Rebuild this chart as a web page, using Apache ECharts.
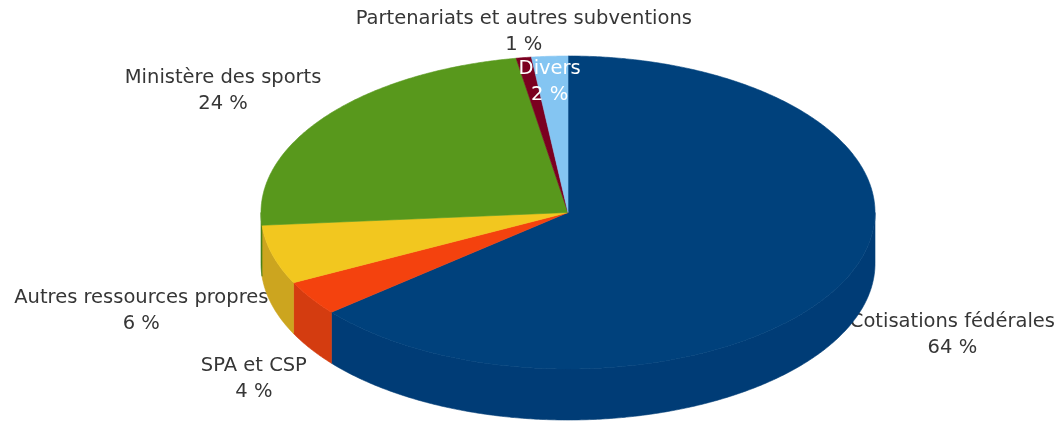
<!DOCTYPE html>
<html><head><meta charset="utf-8">
<script src="https://cdn.jsdelivr.net/npm/echarts@6/dist/echarts.min.js"></script>
<style>html,body{margin:0;padding:0;background:#fff}#c{width:1063px;height:423px}</style>
</head><body><div id="c"></div>
<script>
const categories = ['Cotisations fédérales', 'SPA et CSP', 'Autres ressources propres', 'Ministère des sports', 'Partenariats et autres subventions', 'Divers'];
const values = [64.0, 3.6, 6.1, 23.6, 0.8, 1.9];
const topColors = ['#00417c', '#f4420e', '#f2c71f', '#58981c', '#7b0020', '#84c5f2'];
const wallColors = ['#003c76', '#d43c10', '#cca51f', '#4a8218', '#5e0018', '#6aa6cf'];
const labelInside = [false, false, false, false, false, true];

const DEPTH = 0.326;
const FONT_SIZE = 19.5;
const FONT_FAMILY = 'DejaVu Sans';
const LINE_H = 26;
const total = values.reduce((a, b) => a + b, 0);
const starts = []; let acc = 0; values.forEach(v => { starts.push(acc); acc += v; });
const pctText = values.map(v => Math.round(v / total * 100) + ' %');

const mctx = document.createElement('canvas').getContext('2d');
mctx.font = FONT_SIZE + 'px "' + FONT_FAMILY + '"';
function textWidth(s) { return Math.max(...s.split('\n').map(l => mctx.measureText(l).width)); }

function renderItem(params, api) {
  const i = params.dataIndex;
  const v = api.value(2);
  const a0 = starts[i] / total * 2 * Math.PI;
  const a1 = (starts[i] + v) / total * 2 * Math.PI;
  const P = t => api.coord([Math.sin(t), Math.cos(t)]);
  const c = api.coord([0, 0]);
  const dpx = api.coord([0, -1 - DEPTH])[1] - api.coord([0, -1])[1];
  const step = Math.PI / 360;
  const children = [];
  const w0 = Math.max(a0, Math.PI / 2), w1 = Math.min(a1, 1.5 * Math.PI);
  if (w1 > w0) {
    const top = [], bot = [];
    for (let t = w0; t < w1; t += step) { const p = P(t); top.push(p); bot.push([p[0], p[1] + dpx]); }
    const pe = P(w1); top.push(pe); bot.push([pe[0], pe[1] + dpx]);
    children.push({ type: 'polygon', shape: { points: top.concat(bot.reverse()) },
      style: { fill: wallColors[i], stroke: wallColors[i], lineWidth: 0.6 }, z2: 10 });
  }
  const pts = [c];
  for (let t = a0; t < a1; t += step) pts.push(P(t));
  pts.push(P(a1));
  children.push({ type: 'polygon', shape: { points: pts },
    style: { fill: topColors[i], stroke: topColors[i], lineWidth: 0.6 }, z2: 11 });

  const m = (a0 + a1) / 2, s = Math.sin(m), co = Math.cos(m);
  const rim = P(m);
  const txt = categories[i] + '\n' + pctText[i];
  const W = textWidth(txt), H = 2 * LINE_H, gap = 4;
  let cx, top;
  if (labelInside[i]) { cx = rim[0]; top = rim[1]; }
  else {
    const ay = rim[1] + (co < 0 ? dpx : 0);
    if (s > 0.5) cx = rim[0] + gap + W / 2; else if (s < -0.5) cx = rim[0] - gap - W / 2; else cx = rim[0];
    if (co > 0.5) top = ay - H; else if (co < -0.5) top = ay + gap; else top = ay - H / 2 + 5;
  }
  children.push({ type: 'text', x: cx, y: top, z2: labelInside[i] ? 20 : 1,
    style: { text: txt, fontSize: FONT_SIZE, fontFamily: FONT_FAMILY, fill: labelInside[i] ? '#ffffff' : '#363636',
      align: 'center', verticalAlign: 'top', lineHeight: LINE_H } });
  return { type: 'group', children };
}

const chart = echarts.init(document.getElementById('c'), null, { renderer: 'canvas' });
chart.setOption({
  animation: false,
  backgroundColor: '#ffffff',
  grid: { left: 261, top: 56, width: 614, height: 364 },
  xAxis: { type: 'value', min: -1, max: 1, show: false },
  yAxis: { type: 'value', min: -1 - DEPTH, max: 1, show: false },
  series: [{
    type: 'custom',
    coordinateSystem: 'cartesian2d',
    renderItem: renderItem,
    encode: { x: 0, y: 1 },
    data: values.map((v, i) => ({ name: categories[i], value: [0, 0, v] }))
  }]
});
</script>
</body></html>
